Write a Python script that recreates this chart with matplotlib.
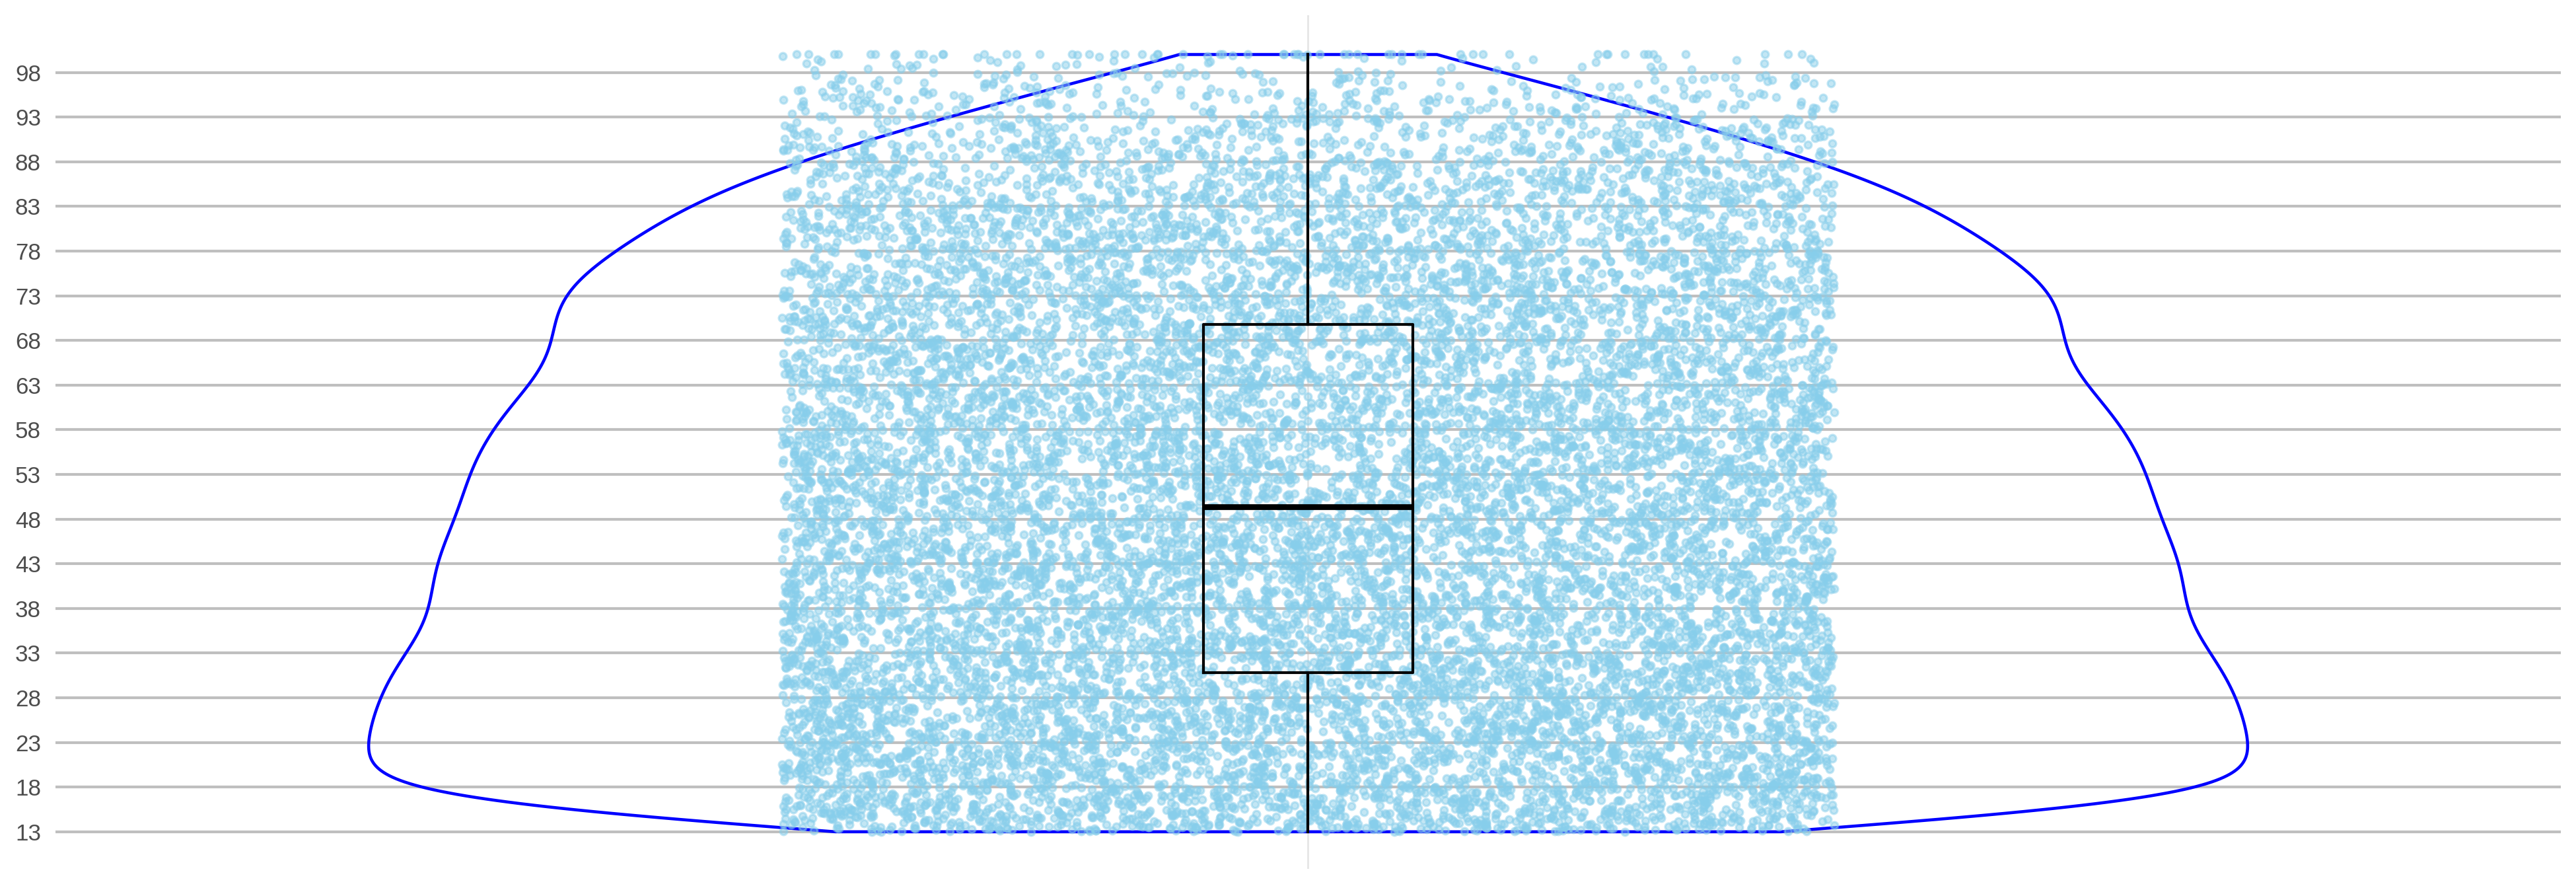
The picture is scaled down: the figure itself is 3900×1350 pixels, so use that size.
import numpy as np
import matplotlib
matplotlib.use("Agg")
from matplotlib import pyplot as plt

# underlying distribution of the values
# (relative density, ends corrected for the kde boundary drop)
density_levels = [13, 15, 18, 20, 22, 25, 28, 30, 33, 35.6, 38, 41, 43, 45, 48, 50,
                  53, 55, 58, 60.5, 63, 65, 68, 70.5, 73, 75, 76.5, 78, 80, 81.5,
                  83, 84.6, 86.3, 88, 90, 93, 96, 98, 100]
density_values = [1.0, 1.0, 1.0, 1.0, 1.0, 0.993, 0.983, 0.978, 0.96, 0.925, 0.922, 0.932,
                  0.927, 0.918, 0.898, 0.894, 0.891, 0.884, 0.862, 0.852, 0.822, 0.795, 0.797,
                  0.8, 0.8, 0.785, 0.755, 0.731, 0.705, 0.686, 0.666, 0.632, 0.59, 0.55,
                  0.49, 0.385, 0.275, 0.19, 0.07]
n_points = 15000
n_at_max = 55
value_max = 100

# box statistics
box_q1 = 30.8
box_median = 49.4
box_q3 = 69.8
box_low = 13
box_high = 100

y_ticks = list(range(13, 99, 5))


def build_values():
    """
    Turns the density profile into a set of values (inverse cdf at evenly spaced
    quantiles) and adds the pile-up of values at the maximum.
    """
    lv = np.array(density_levels, dtype=float)
    dv = np.array(density_values, dtype=float)
    cdf = np.concatenate([[0], np.cumsum((dv[1:] + dv[:-1]) / 2 * np.diff(lv))])
    cdf /= cdf[-1]
    u = (np.arange(n_points) + 0.5) / n_points
    values = np.interp(u, cdf, lv)
    return np.concatenate([values, np.full(n_at_max, value_max)])


values = build_values()
# horizontal jitter only (not data), like a strip plot
rng = np.random.default_rng(3)
xpos = rng.uniform(-0.252, 0.252, len(values))

fig = plt.figure(figsize=(13, 4.5), dpi=300)
ax = fig.add_axes([0.02154, 0.02593, 0.97256, 0.95703])

# violin outline
parts = ax.violinplot([values], positions=[0], widths=0.9, showextrema=False,
                      points=500, bw_method=0.14)
for body in parts["bodies"]:
    body.set_facecolor("none")
    body.set_edgecolor("blue")
    body.set_alpha(1)
    body.set_linewidth(1.1)
    body.set_zorder(1)

# jittered points
ax.scatter(xpos, values, s=6.6, color="skyblue", alpha=0.5, linewidths=0.8, zorder=2)

# box
stats = [dict(med=box_median, q1=box_q1, q3=box_q3, whislo=box_low, whishi=box_high, fliers=[])]
ax.bxp(stats, positions=[0], widths=0.1, showfliers=False, showcaps=False,
       boxprops=dict(color="black", linewidth=1.0),
       whiskerprops=dict(color="black", linewidth=1.0),
       medianprops=dict(color="black", linewidth=2.1),
       zorder=3)

ax.set_xlim(-0.6, 0.6)
ax.set_ylim(8.85, 104.4)
ax.set_yticks(y_ticks)
ax.set_xticks([0])
ax.tick_params(axis="both", length=0)
ax.tick_params(axis="y", pad=5.3, labelsize=8.4, labelcolor="#4d4d4d")
ax.tick_params(axis="x", labelbottom=False)
for label in ax.get_yticklabels():
    label.set_fontfamily(["Liberation Sans", "DejaVu Sans"])
ax.yaxis.grid(True, color="#bfbfbf", linewidth=1.0, zorder=0)
ax.xaxis.grid(True, color="#e6e6e6", linewidth=0.7, zorder=0)
ax.set_axisbelow(True)
for side in ax.spines.values():
    side.set_visible(False)

plt.savefig("out.png", dpi=300)
